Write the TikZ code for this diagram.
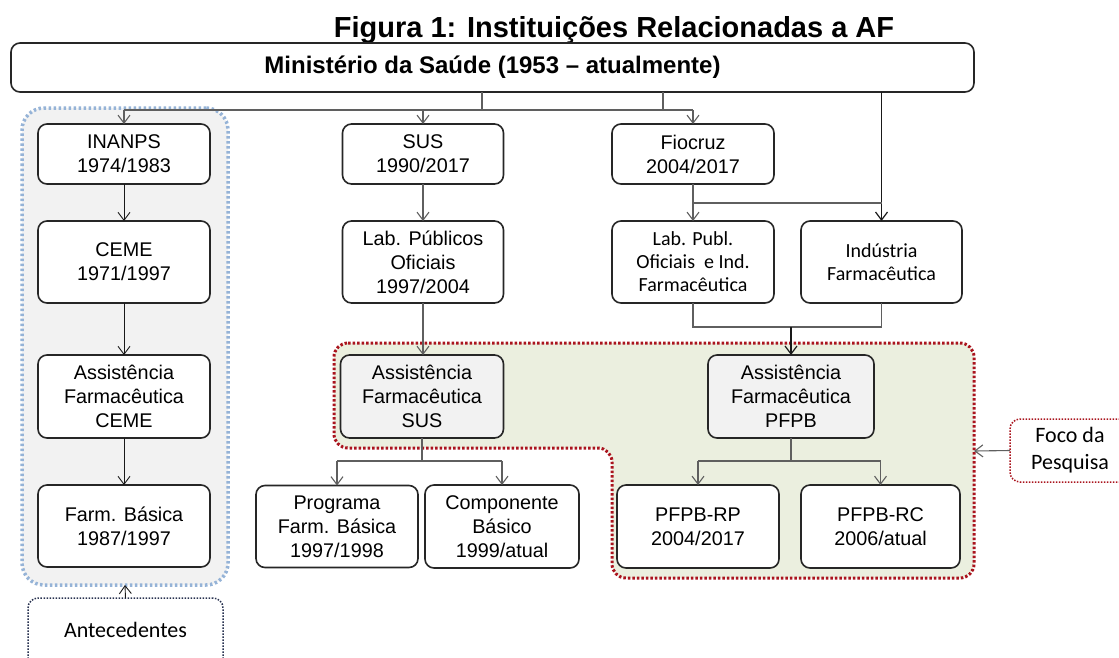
\documentclass[tikz,border=0pt]{standalone}
\usepackage{fontspec}
\setmainfont{Liberation Sans}
\newfontfamily\calib{Carlito}
\usetikzlibrary{arrows.meta}
\definecolor{bluedot}{RGB}{149,179,215}
\definecolor{reddot}{RGB}{170,20,30}
\definecolor{greenfill}{RGB}{235,239,223}
\definecolor{greyfill}{RGB}{242,242,242}
\definecolor{conngrey}{RGB}{95,95,95}
\definecolor{navydot}{RGB}{40,50,80}
\tikzset{
  box/.style={draw=black!85, line width=1.6pt, rounded corners=9pt, fill=white, align=center,
    inner sep=0pt, outer sep=0pt, font=\fontsize{19.8}{24}\selectfont},
  afbox/.style={box, fill=greyfill},
  calbox/.style={box, font=\calib\fontsize{20}{23}\selectfont},
  gline/.style={draw=conngrey, line width=1.1pt},
  garrow/.style={gline, -{Straight Barb[length=8pt,width=12pt]}},
  barrow/.style={draw=black!90, line width=1.2pt, -{Straight Barb[length=8pt,width=12pt]}},
  bregion/.style={draw=bluedot, fill=greyfill, line width=3.5pt, dash pattern=on 2.5pt off 2.5pt, rounded corners=22pt, inner sep=0pt, outer sep=0pt},
  rregion/.style={draw=reddot, fill=greenfill, line width=3pt, dash pattern=on 2.5pt off 2pt, rounded corners=14pt},
  labelbox/.style={line width=1.5pt, dash pattern=on 1.5pt off 1.5pt, rounded corners=10pt, fill=white, align=center, inner sep=0pt, outer sep=0pt, font=\calib\fontsize{22}{27}\selectfont},
}
\begin{document}
\begin{tikzpicture}[x=1pt,y=-1pt]
\useasboundingbox[fill=white] (0,0) rectangle (1119,657);

% regions
\node[bregion, minimum width=206pt, minimum height=477pt] (blue) at (125,346.5) {};
\path[rregion] (334,343) -- (974,343) -- (974,578) -- (612,578) -- (612,448) -- (334,448) -- cycle;
\coordinate (redE) at (974,451);

% title
\node[anchor=base, font=\bfseries\fontsize{29}{34}\selectfont] (title) at (614,37) {Figura 1: Instituições Relacionadas a AF};

% boxes
\node[box, minimum width=963pt, minimum height=49pt, font=\bfseries\fontsize{24}{28}\selectfont] (ms) at (492.5,67.5) {Ministério da Saúde (1953 – atualmente)};

\node[box, minimum width=172pt, minimum height=60pt] (inanps) at (124,154) {INANPS\\1974/1983};
\node[box, minimum width=172pt, minimum height=82pt] (ceme) at (124,262) {CEME\\1971/1997};
\node[box, minimum width=172pt, minimum height=83pt] (afceme) at (124,396.5) {Assistência\\Farmacêutica\\CEME};
\node[box, minimum width=172pt, minimum height=82pt] (farmb) at (124,526) {Farm. Básica\\1987/1997};

\node[box, minimum width=161pt, minimum height=60pt] (sus) at (423,154) {SUS\\1990/2017};
\node[box, minimum width=161pt, minimum height=82pt] (lab) at (423,262) {Lab. Públicos\\Oficiais\\1997/2004};
\node[afbox, minimum width=163pt, minimum height=83pt] (afsus) at (422,396.5) {Assistência\\Farmacêutica\\SUS};
\node[box, minimum width=162pt, minimum height=82pt] (prog) at (337,526.5) {Programa\\Farm. Básica\\1997/1998};
\node[box, minimum width=154pt, minimum height=83pt] (comp) at (502,526.5) {Componente\\Básico\\1999/atual};

\node[box, minimum width=162pt, minimum height=60pt] (fio) at (693,154) {Fiocruz\\2004/2017};
\node[calbox, minimum width=162pt, minimum height=82pt] (labp) at (693,262) {Lab. Publ.\\Oficiais~ e Ind.\\Farmacêutica};
\node[calbox, minimum width=161pt, minimum height=82pt] (ind) at (881.5,262) {Indústria\\Farmacêutica};
\node[afbox, minimum width=166pt, minimum height=83pt] (afpfpb) at (791,396.5) {Assistência\\Farmacêutica\\PFPB};
\node[box, minimum width=162pt, minimum height=83pt] (rp) at (698,526.5) {PFPB-RP\\2004/2017};
\node[box, minimum width=159pt, minimum height=83pt] (rc) at (880.5,526.5) {PFPB-RC\\2006/atual};

\node[labelbox, draw=navydot, minimum width=195pt, minimum height=90pt] (ant) at (125.5,643) {};
\node[font=\calib\fontsize{22}{27}\selectfont, anchor=base] (antt) at (125.5,637) {Antecedentes};
\node[labelbox, draw=reddot, minimum width=120pt, minimum height=63pt] (foco) at (1070,450.5) {Foco da\\Pesquisa};

% connectors from Ministerio
\coordinate (s1) at (482,110);
\coordinate (s2) at (663,110);
\draw[gline] (ms.south -| s1) -- (s1);
\draw[gline] (ms.south -| s2) -- (s2);
\draw[gline] (inanps.north |- s1) -- (fio.north |- s1);
\draw[garrow] (inanps.north |- s1) -- (inanps.north);
\draw[garrow] (sus.north |- s1) -- (sus.north);
\draw[garrow] (fio.north |- s1) -- (fio.north);
\draw[barrow] (ms.south -| ind.north) -- (ind.north);

% left column
\draw[barrow, line width=0.9pt] (inanps) -- (ceme);
\draw[barrow, line width=0.9pt] (ceme) -- (afceme);
\draw[barrow, line width=0.9pt] (afceme) -- (farmb);
\draw[barrow, line width=0.9pt] (ant.north) -- (blue.south);

% SUS column
\draw[garrow] (sus) -- (lab);
\draw[garrow] (lab.south) -- (afsus.north -| lab.south);
\coordinate (k1) at (0,461);
\draw[gline] (afsus.south) -- (afsus.south |- k1);
\draw[gline] (prog.north |- k1) -- (comp.north |- k1);
\draw[garrow] (prog.north |- k1) -- (prog.north);
\draw[garrow] (comp.north |- k1) -- (comp.north);

% Fiocruz column
\coordinate (f1) at (0,203);
\draw[gline] (fio.south) -- (fio.south |- f1) -- (ind.north |- f1);
\draw[garrow] (fio.south |- f1) -- (labp.north);
\coordinate (j2) at (0,327);
\draw[gline] (labp.south) -- (labp.south |- j2) -- (ind.south |- j2) -- (ind.south);
\draw[barrow] (afpfpb.north |- j2) -- (afpfpb.north);
\draw[gline] (afpfpb.south) -- (afpfpb.south |- k1);
\draw[gline] (rp.north |- k1) -- (rc.north |- k1);
\draw[garrow] (rp.north |- k1) -- (rp.north);
\draw[garrow] (rc.north |- k1) -- (rc.north);

% foco arrow
\draw[garrow] (foco.west) -- (redE);
\end{tikzpicture}
\end{document}
